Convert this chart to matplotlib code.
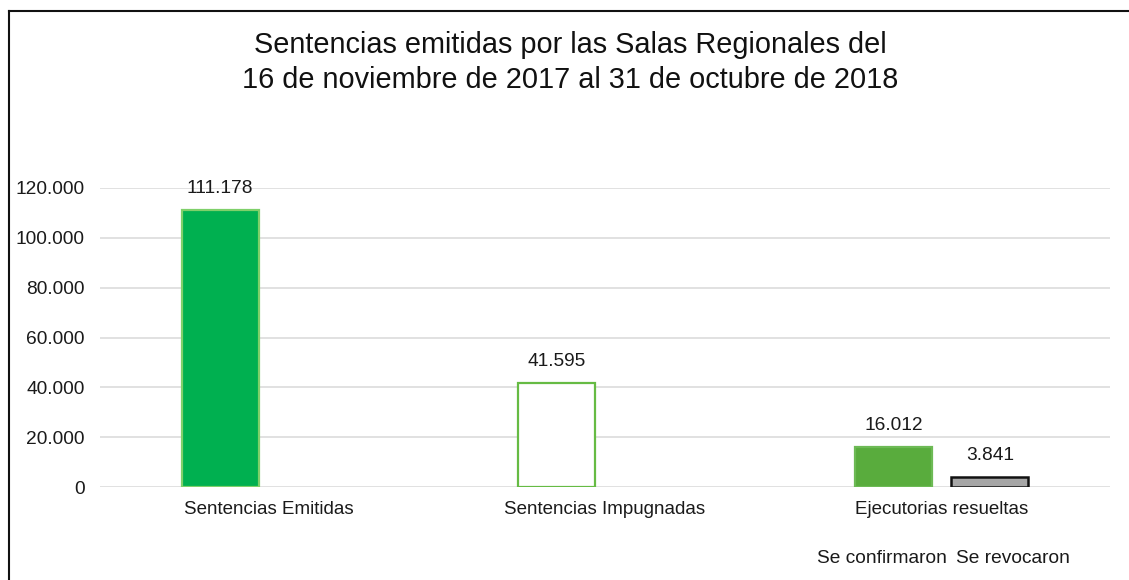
import matplotlib.pyplot as plt
from matplotlib.lines import Line2D
from matplotlib.ticker import FuncFormatter

plt.rcParams['font.family'] = ['Liberation Sans', 'DejaVu Sans']

# data
categories = ["Sentencias Emitidas", "Sentencias Impugnadas", "Ejecutorias resueltas"]
first_vals = [111178, 41595, 16012]
second_vals = [None, None, 3841]
sub_labels = ["Se confirmaron", "Se revocaron"]
yticks = [0, 20000, 40000, 60000, 80000, 100000, 120000]

title = ("Sentencias emitidas por las Salas Regionales del\n"
         "16 de noviembre de 2017 al 31 de octubre de 2018")


def fmt(v):
    return f"{v:,.0f}".replace(",", ".")


fig = plt.figure(figsize=(11.29, 5.8), dpi=100)
ax = fig.add_axes([100 / 1129, 1 - 487 / 580, 1010 / 1129, (487 - 188) / 580])

w = 0.228
off = 0.143
x = list(range(len(categories)))
fs = 13.8
lab_off = 8800

face1 = ["#00B050", "white", "#59AC3D"]
edge1 = ["#7FD06A", "#66BB44", "#6DBA55"]
bars1 = ax.bar([i - off for i in x], first_vals, width=w, color=face1,
               edgecolor=edge1, linewidth=1.6, zorder=3)
for b, v in zip(bars1, first_vals):
    ax.text(b.get_x() + b.get_width() / 2, v + lab_off, fmt(v),
            ha="center", va="center", fontsize=fs, color="#1a1a1a")

x2 = [i + off for i, v in zip(x, second_vals) if v is not None]
v2 = [v for v in second_vals if v is not None]
bars2 = ax.bar(x2, v2, width=w, color="#A6A6A6", edgecolor="#111111",
               linewidth=1.8, zorder=3)
for b, v in zip(bars2, v2):
    ax.text(b.get_x() + b.get_width() / 2, v + lab_off, fmt(v),
            ha="center", va="center", fontsize=fs, color="#1a1a1a")

ax.set_xlim(-0.5, 2.5)
ax.set_ylim(0, 120000)
ax.set_yticks(yticks)
ax.yaxis.set_major_formatter(FuncFormatter(lambda v, p: fmt(v)))
ax.set_xticks(x)
ax.set_xticklabels(categories)
ax.tick_params(axis="both", length=0, labelsize=fs, colors="#1a1a1a")
ax.tick_params(axis="x", pad=10, labelsize=13.5)
ax.tick_params(axis="y", pad=11)
ax.grid(axis="y", color="#dedede", linewidth=1.3, zorder=0)
ax.set_axisbelow(True)
for s in ax.spines.values():
    s.set_visible(False)

# sub labels under the third group
ax.text(2 - 0.178, -28500, sub_labels[0], ha="center", va="center",
        fontsize=fs, color="#1a1a1a")
ax.text(2 + 0.212, -28500, sub_labels[1], ha="center", va="center",
        fontsize=fs, color="#1a1a1a")

fig.text(570 / 1129, 1 - 62.5 / 580, title, ha="center", va="center",
         fontsize=20.8, linespacing=1.28, color="#111111")

# frame lines (top and left)
fig.add_artist(Line2D([9 / 1129, 1], [1 - 11 / 580, 1 - 11 / 580],
                      color="#111111", linewidth=1.5))
fig.add_artist(Line2D([9 / 1129, 9 / 1129], [0, 1 - 11 / 580],
                      color="#111111", linewidth=1.5))

fig.savefig("out.png", dpi=100)
